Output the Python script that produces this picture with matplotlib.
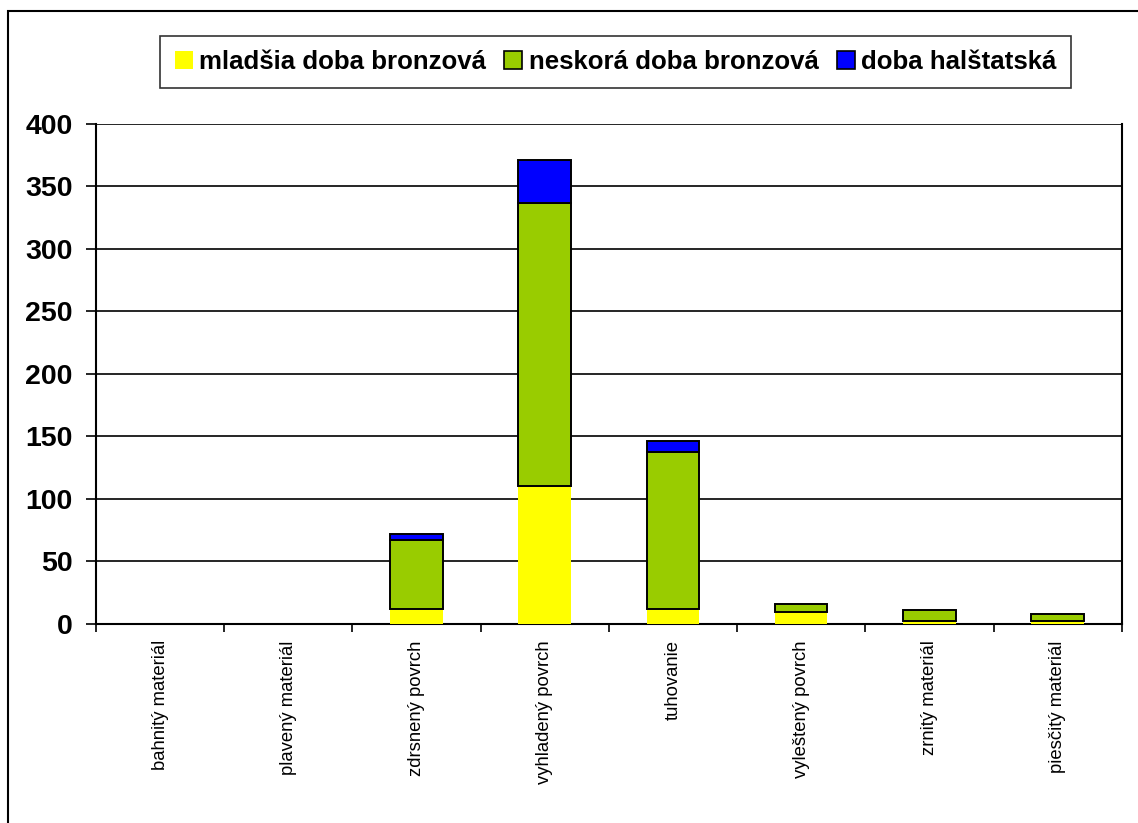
import numpy as np
import matplotlib.pyplot as plt
from matplotlib.patches import Rectangle

plt.rcParams['font.family'] = ['Liberation Sans', 'DejaVu Sans']

categories = ['bahnitý materiál', 'plavený materiál', 'zdrsnený povrch', 'vyhladený povrch',
              'tuhovanie', 'vyleštený povrch', 'zrnitý materiál', 'piesčitý materiál']
mladsia = [0, 0, 12, 110, 12, 9, 2, 2]
neskora = [0, 0, 55, 227, 125, 7, 9, 6]
halstat = [0, 0, 5, 34, 9, 0, 0, 0]
series = [
    ('mladšia doba bronzová', mladsia, '#FFFF00', False),
    ('neskorá doba bronzová', neskora, '#99CC00', True),
    ('doba halštatská', halstat, '#0000FF', True),
]
yticks = [0, 50, 100, 150, 200, 250, 300, 350, 400]

fig = plt.figure(figsize=(11.38, 8.23), dpi=100)
ax = fig.add_axes([0.0844, 0.2424, 0.9013, 0.6069])

x = np.arange(len(categories))
bottom = np.zeros(len(categories))
for name, vals, color, edged in series:
    vals = np.array(vals, dtype=float)
    lw = np.where(vals > 0, 1.4, 0) if edged else 0
    ax.bar(x, vals, width=0.41, bottom=bottom, color=color,
           edgecolor='black' if edged else 'none', linewidth=lw, zorder=3, label=name)
    bottom += vals

ax.set_xlim(-0.5, len(categories) - 0.5)
ax.set_ylim(0, 400)
ax.set_yticks(yticks)
ax.set_yticklabels([str(t) for t in yticks], fontsize=20.5, fontweight='bold')
ax.yaxis.grid(True, color='black', linewidth=1.2, zorder=0)
ax.set_axisbelow(True)
ax.tick_params(axis='y', length=7, width=1.2, pad=10)

ax.set_xticks(x)
ax.set_xticklabels(categories, rotation=90, fontsize=13.3, va='top')
ax.tick_params(axis='x', which='major', length=0, pad=12)
ax.set_xticks(np.arange(len(categories) + 1) - 0.5, minor=True)
ax.tick_params(axis='x', which='minor', length=6, width=1.2)

for s in ax.spines.values():
    s.set_color('black')
    s.set_linewidth(1.5)
ax.spines['top'].set_visible(False)

leg_handles = [
    Rectangle((0, 0), 1, 1, facecolor='#FFFF00', edgecolor='none'),
    Rectangle((0, 0), 1, 1, facecolor='#99CC00', edgecolor='black', linewidth=1.2),
    Rectangle((0, 0), 1, 1, facecolor='#0000FF', edgecolor='black', linewidth=1.2),
]
leg = fig.legend(leg_handles, [s[0] for s in series], loc='center', bbox_to_anchor=(0.541, 0.925),
                 ncol=3, frameon=True, fancybox=False, prop={'size': 18.6, 'weight': 'bold'},
                 handlelength=0.7, handleheight=0.7, handletextpad=0.25, columnspacing=0.7,
                 borderpad=0.55)
leg.get_frame().set_edgecolor('black')
leg.get_frame().set_linewidth(1.2)

fig.add_artist(Rectangle((8 / 1138, -0.1), 1.2, 0.1 + 1 - 11 / 823, transform=fig.transFigure,
                         fill=False, edgecolor='black', linewidth=1.5))

fig.savefig('out.png', dpi=100)
